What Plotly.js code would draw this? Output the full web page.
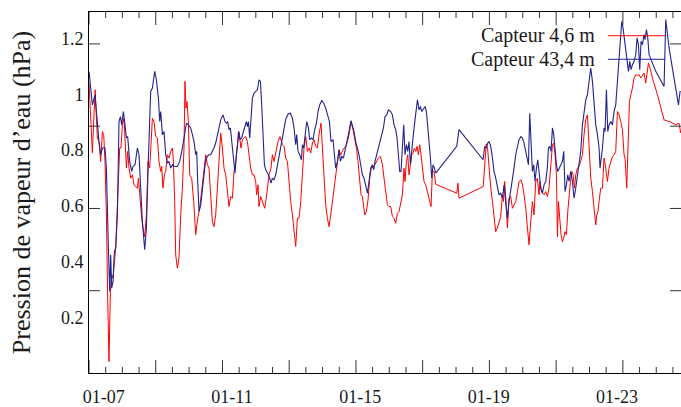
<!DOCTYPE html>
<html>
<head>
<meta charset="utf-8">
<script src="https://cdn.plot.ly/plotly-3.0.1.min.js"></script>
<style>
  html, body { margin: 0; padding: 0; background: #fff; }
  #chart { width: 681px; height: 407px; }
</style>
</head>
<body>
<div id="chart"></div>
<script>
// Water vapour pressure (hPa) recorded by two sensors, January.
// Times are given as decimal day of January.
const YEAR = 2009;

const seriesNames = ['Capteur 4,6 m', 'Capteur 43,4 m'];
const seriesColors = ['#ff0000', '#23238f'];

const lowDay = [
  6.542, 6.585, 6.648, 6.698, 6.735, 6.766, 6.804, 6.853, 6.906, 6.959,
  7.000, 7.041, 7.084, 7.125, 7.165, 7.209, 7.249, 7.290, 7.334, 7.374,
  7.436, 7.499, 7.539, 7.583, 7.633, 7.664, 7.708, 7.748, 7.789, 7.842,
  7.895, 7.944, 7.998, 8.050, 8.082, 8.132, 8.185, 8.225, 8.278, 8.331,
  8.381, 8.434, 8.487, 8.518, 8.568, 8.621, 8.674, 8.724, 8.777, 8.808,
  8.848, 8.892, 8.933, 8.986, 9.036, 9.089, 9.142, 9.173, 9.213, 9.244,
  9.297, 9.347, 9.400, 9.453, 9.503, 9.534, 9.565, 9.597, 9.640, 9.681,
  9.743, 9.805, 9.868, 9.930, 9.992, 10.055, 10.127, 10.180, 10.233, 10.282,
  10.335, 10.388, 10.438, 10.491, 10.544, 10.594, 10.647, 10.700, 10.750, 10.803,
  10.856, 10.906, 10.959, 11.012, 11.062, 11.115, 11.168, 11.199, 11.239, 11.280,
  11.324, 11.373, 11.426, 11.479, 11.529, 11.582, 11.635, 11.685, 11.738, 11.769,
  11.810, 11.841, 11.894, 11.947, 12.019, 12.081, 12.153, 12.215, 12.259, 12.309,
  12.362, 12.433, 12.496, 12.570, 12.620, 12.673, 12.726, 12.776, 12.829, 12.882,
  12.932, 12.985, 13.038, 13.088, 13.141, 13.194, 13.244, 13.297, 13.350, 13.400,
  13.453, 13.506, 13.555, 13.608, 13.661, 13.711, 13.774, 13.817, 13.867, 13.920,
  13.973, 14.023, 14.076, 14.129, 14.179, 14.232, 14.285, 14.335, 14.388, 14.441,
  14.491, 14.544, 14.597, 14.646, 14.709, 14.771, 14.824, 14.877, 14.927, 14.980,
  15.021, 15.064, 15.095, 15.136, 15.189, 15.239, 15.292, 15.345, 15.395, 15.448,
  15.501, 15.563, 15.625, 15.688, 15.737, 15.790, 15.843, 15.893, 15.946, 15.999,
  16.049, 16.102, 16.155, 16.205, 16.258, 16.311, 16.361, 16.392, 16.436, 16.476,
  16.517, 16.560, 16.601, 16.641, 16.685, 16.726, 16.766, 16.810, 16.850, 16.891,
  16.934, 16.984, 17.037, 17.090, 17.140, 17.203, 17.246, 17.296, 17.349, 18.004,
  18.041, 18.075, 18.830, 18.886, 18.923, 18.970, 19.011, 19.064, 19.117, 19.166,
  19.219, 19.272, 19.322, 19.375, 19.428, 19.459, 19.500, 19.540, 19.584, 19.634,
  19.687, 19.740, 19.790, 19.843, 19.896, 19.946, 20.008, 20.052, 20.102, 20.155,
  20.208, 20.257, 20.310, 20.363, 20.413, 20.466, 20.519, 20.569, 20.600, 20.644,
  20.685, 20.725, 20.778, 20.831, 20.881, 20.934, 20.987, 21.027, 21.068, 21.112,
  21.143, 21.174, 21.214, 21.255, 21.299, 21.339, 21.380, 21.423, 21.464, 21.504,
  21.548, 21.589, 21.629, 21.673, 21.713, 21.766, 21.816, 21.869, 21.922, 21.972,
  22.025, 22.078, 22.128, 22.181, 22.234, 22.284, 22.337, 22.368, 22.408, 22.440,
  22.492, 22.545, 22.595, 22.648, 22.701, 22.751, 22.804, 22.857, 22.907, 22.960,
  23.013, 23.063, 23.116, 23.169, 23.219, 23.250, 23.303, 23.344, 23.387, 23.428,
  23.481, 23.531, 23.584, 23.637, 23.686, 23.739, 23.792, 23.842, 23.895, 23.926,
  23.979, 24.029, 24.104, 24.260, 24.466, 24.675, 24.830, 24.933, 24.986
];
const lowVal = [
  1.040, 0.930, 0.790, 0.930, 1.016, 0.930, 0.843, 0.830, 0.759, 0.866,
  0.855, 0.759, 0.567, 0.268, 0.041, 0.292, 0.352, 0.340, 0.412, 0.448,
  0.627, 0.807, 0.807, 0.890, 0.914, 0.807, 0.735, 0.795, 0.735, 0.699,
  0.711, 0.675, 0.669, 0.663, 0.699, 0.615, 0.555, 0.520, 0.489, 0.567,
  0.759, 0.735, 0.830, 0.914, 0.902, 0.848, 0.843, 0.759, 0.723, 0.741,
  0.663, 0.711, 0.723, 0.783, 0.771, 0.795, 0.807, 0.759, 0.615, 0.424,
  0.376, 0.412, 0.567, 0.663, 0.807, 1.046, 0.950, 0.974, 0.902, 0.711,
  0.699, 0.615, 0.496, 0.555, 0.591, 0.663, 0.735, 0.783, 0.747, 0.735,
  0.639, 0.543, 0.525, 0.567, 0.663, 0.783, 0.861, 0.807, 0.735, 0.711,
  0.639, 0.597, 0.633, 0.627, 0.723, 0.759, 0.819, 0.866, 0.843, 0.807,
  0.837, 0.843, 0.848, 0.830, 0.783, 0.735, 0.711, 0.711, 0.687, 0.639,
  0.675, 0.597, 0.633, 0.615, 0.591, 0.639, 0.711, 0.735, 0.783, 0.759,
  0.795, 0.830, 0.848, 0.819, 0.813, 0.771, 0.759, 0.675, 0.615, 0.567,
  0.520, 0.454, 0.555, 0.555, 0.615, 0.711, 0.807, 0.848, 0.795, 0.807,
  0.789, 0.825, 0.837, 0.813, 0.807, 0.855, 0.896, 0.807, 0.711, 0.603,
  0.555, 0.525, 0.567, 0.615, 0.663, 0.723, 0.771, 0.801, 0.783, 0.795,
  0.807, 0.813, 0.830, 0.855, 0.902, 0.873, 0.843, 0.807, 0.759, 0.675,
  0.639, 0.633, 0.603, 0.567, 0.579, 0.621, 0.699, 0.741, 0.735, 0.747,
  0.759, 0.771, 0.777, 0.747, 0.699, 0.651, 0.603, 0.597, 0.597, 0.561,
  0.555, 0.537, 0.573, 0.579, 0.615, 0.639, 0.735, 0.687, 0.759, 0.783,
  0.711, 0.759, 0.783, 0.789, 0.807, 0.795, 0.813, 0.783, 0.819, 0.783,
  0.735, 0.687, 0.675, 0.651, 0.621, 0.597, 0.723, 0.723, 0.677, 0.645,
  0.681, 0.627, 0.669, 0.783, 0.822, 0.800, 0.723, 0.663, 0.615, 0.567,
  0.507, 0.520, 0.543, 0.561, 0.639, 0.615, 0.687, 0.615, 0.520, 0.627,
  0.633, 0.591, 0.603, 0.615, 0.651, 0.687, 0.693, 0.675, 0.639, 0.591,
  0.520, 0.460, 0.543, 0.615, 0.567, 0.687, 0.699, 0.639, 0.687, 0.651,
  0.645, 0.639, 0.651, 0.633, 0.663, 0.759, 0.819, 0.825, 0.783, 0.711,
  0.489, 0.615, 0.555, 0.496, 0.471, 0.484, 0.507, 0.496, 0.579, 0.639,
  0.687, 0.723, 0.711, 0.663, 0.711, 0.735, 0.741, 0.759, 0.783, 0.855,
  0.910, 0.926, 0.807, 0.699, 0.651, 0.579, 0.531, 0.567, 0.579, 0.615,
  0.663, 0.663, 0.771, 0.735, 0.687, 0.735, 0.759, 0.777, 0.783, 0.795,
  0.938, 0.926, 0.902, 0.873, 0.783, 0.771, 0.663, 0.866, 0.974, 0.998,
  1.022, 1.058, 1.070, 1.068, 1.070, 1.058, 1.070, 1.076, 1.040, 1.064,
  1.112, 1.094, 1.058, 0.998, 0.908, 0.900, 0.890, 0.896, 0.861
];

const highDay = [
  6.542, 6.648, 6.729, 6.804, 6.853, 6.906, 6.959, 7.041, 7.084, 7.147,
  7.187, 7.218, 7.249, 7.290, 7.334, 7.374, 7.427, 7.477, 7.521, 7.561,
  7.614, 7.664, 7.708, 7.748, 7.810, 7.873, 7.913, 7.976, 8.050, 8.100,
  8.153, 8.206, 8.278, 8.331, 8.393, 8.465, 8.518, 8.590, 8.643, 8.705,
  8.746, 8.777, 8.830, 8.880, 8.933, 8.986, 9.036, 9.089, 9.142, 9.191,
  9.297, 9.369, 9.453, 9.516, 9.578, 9.640, 9.712, 9.765, 9.815, 9.868,
  9.899, 9.930, 9.971, 10.024, 10.077, 10.127, 10.180, 10.233, 10.282, 10.335,
  10.388, 10.438, 10.491, 10.544, 10.594, 10.647, 10.719, 10.781, 10.825, 10.865,
  10.906, 10.949, 10.981, 11.012, 11.052, 11.093, 11.137, 11.177, 11.218, 11.249,
  11.302, 11.342, 11.395, 11.448, 11.479, 11.511, 11.551, 11.592, 11.635, 11.685,
  11.738, 11.791, 11.841, 11.885, 11.925, 11.966, 12.009, 12.050, 12.112, 12.175,
  12.215, 12.259, 12.309, 12.362, 12.415, 12.464, 12.517, 12.570, 12.620, 12.673,
  12.751, 12.820, 12.882, 12.932, 12.985, 13.016, 13.057, 13.110, 13.163, 13.194,
  13.234, 13.275, 13.328, 13.381, 13.421, 13.474, 13.524, 13.577, 13.630, 13.680,
  13.733, 13.795, 13.858, 13.920, 13.982, 14.036, 14.085, 14.148, 14.191, 14.232,
  14.285, 14.335, 14.378, 14.419, 14.472, 14.522, 14.584, 14.646, 14.709, 14.752,
  14.802, 14.855, 14.908, 14.958, 15.011, 15.064, 15.114, 15.167, 15.220, 15.270,
  15.323, 15.376, 15.416, 15.457, 15.510, 15.563, 15.613, 15.666, 15.719, 15.769,
  15.822, 15.875, 15.946, 15.999, 16.049, 16.102, 16.143, 16.186, 16.227, 16.267,
  16.311, 16.352, 16.392, 16.436, 16.476, 16.517, 16.560, 16.601, 16.641, 16.685,
  16.726, 16.779, 16.829, 16.872, 16.913, 16.966, 17.016, 17.059, 17.100, 17.140,
  17.184, 17.224, 17.265, 17.309, 17.349, 18.004, 18.075, 18.824, 18.877, 18.930,
  18.970, 19.011, 19.064, 19.117, 19.166, 19.219, 19.251, 19.282, 19.322, 19.375,
  19.428, 19.478, 19.531, 19.584, 19.634, 19.687, 19.740, 19.790, 19.843, 19.896,
  19.946, 19.999, 20.052, 20.102, 20.155, 20.208, 20.239, 20.279, 20.320, 20.363,
  20.404, 20.444, 20.488, 20.529, 20.569, 20.622, 20.675, 20.725, 20.778, 20.831,
  20.862, 20.903, 20.943, 20.987, 21.027, 21.068, 21.112, 21.152, 21.193, 21.246,
  21.299, 21.339, 21.380, 21.423, 21.464, 21.504, 21.557, 21.610, 21.660, 21.713,
  21.766, 21.816, 21.869, 21.922, 21.972, 22.025, 22.078, 22.128, 22.181, 22.234,
  22.284, 22.337, 22.390, 22.440, 22.471, 22.514, 22.545, 22.595, 22.627, 22.670,
  22.711, 22.751, 22.804, 22.857, 22.907, 22.960, 23.013, 23.063, 23.107, 23.147,
  23.188, 23.231, 23.272, 23.312, 23.356, 23.397, 23.437, 23.481, 23.531, 23.584,
  23.624, 23.668, 23.708, 23.749, 23.792, 23.842, 23.873, 23.917, 23.958, 23.998,
  24.207, 24.466, 24.519, 24.622, 24.777, 24.915, 24.964, 24.986
];
const highVal = [
  1.082, 0.962, 0.998, 0.890, 0.830, 0.783, 0.807, 0.807, 0.735, 0.448,
  0.292, 0.424, 0.304, 0.328, 0.436, 0.448, 0.567, 0.902, 0.920, 0.890,
  0.938, 0.890, 0.843, 0.848, 0.759, 0.723, 0.741, 0.747, 0.807, 0.783,
  0.639, 0.543, 0.442, 0.520, 0.771, 1.010, 1.022, 1.082, 1.052, 0.986,
  0.902, 0.938, 0.855, 0.866, 0.783, 0.753, 0.759, 0.735, 0.747, 0.741,
  0.741, 0.759, 0.807, 0.855, 0.896, 0.890, 0.879, 0.855, 0.830, 0.783,
  0.795, 0.687, 0.579, 0.603, 0.663, 0.723, 0.765, 0.777, 0.783, 0.783,
  0.795, 0.807, 0.825, 0.848, 0.879, 0.908, 0.926, 0.902, 0.896, 0.902,
  0.873, 0.879, 0.843, 0.830, 0.783, 0.717, 0.783, 0.819, 0.866, 0.837,
  0.843, 0.861, 0.884, 0.902, 0.884, 0.902, 0.843, 0.938, 0.986, 1.004,
  1.010, 1.016, 1.052, 1.046, 0.962, 0.855, 0.747, 0.729, 0.717, 0.699,
  0.681, 0.699, 0.693, 0.711, 0.747, 0.783, 0.819, 0.855, 0.890, 0.910,
  0.929, 0.932, 0.914, 0.879, 0.819, 0.855, 0.795, 0.783, 0.765, 0.819,
  0.807, 0.855, 0.902, 0.879, 0.837, 0.843, 0.837, 0.873, 0.896, 0.938,
  0.962, 0.977, 0.968, 0.950, 0.926, 0.902, 0.830, 0.837, 0.783, 0.735,
  0.759, 0.801, 0.759, 0.777, 0.771, 0.795, 0.830, 0.866, 0.905, 0.890,
  0.866, 0.830, 0.807, 0.783, 0.747, 0.711, 0.699, 0.675, 0.645, 0.687,
  0.735, 0.747, 0.729, 0.759, 0.783, 0.807, 0.830, 0.848, 0.879, 0.920,
  0.926, 0.944, 0.938, 0.926, 0.890, 0.873, 0.843, 0.783, 0.723, 0.723,
  0.807, 0.890, 0.783, 0.819, 0.795, 0.830, 0.747, 0.807, 0.843, 0.890,
  0.926, 0.980, 0.944, 0.956, 0.938, 0.950, 0.956, 0.938, 0.890, 0.830,
  0.771, 0.699, 0.747, 0.735, 0.717, 0.813, 0.873, 0.765, 0.813, 0.807,
  0.825, 0.830, 0.813, 0.771, 0.723, 0.699, 0.681, 0.651, 0.639, 0.645,
  0.627, 0.675, 0.615, 0.555, 0.615, 0.651, 0.687, 0.735, 0.783, 0.813,
  0.837, 0.848, 0.843, 0.825, 0.795, 0.759, 0.747, 0.932, 0.819, 0.723,
  0.747, 0.687, 0.735, 0.765, 0.723, 0.663, 0.645, 0.675, 0.687, 0.741,
  0.807, 0.813, 0.795, 0.879, 0.855, 0.801, 0.747, 0.723, 0.735, 0.747,
  0.759, 0.795, 0.651, 0.675, 0.711, 0.687, 0.723, 0.687, 0.627, 0.663,
  0.711, 0.747, 0.795, 0.890, 0.938, 0.980, 0.998, 1.050, 1.094, 1.046,
  0.962, 0.890, 0.855, 0.807, 0.735, 0.771, 0.807, 0.879, 0.866, 1.016,
  0.866, 0.890, 0.902, 0.890, 0.938, 0.962, 1.046, 1.154, 1.226, 1.261,
  1.237, 1.202, 1.166, 1.118, 1.082, 1.118, 1.088, 1.106, 1.118, 1.142,
  1.202, 1.178, 1.088, 1.190, 1.178, 1.214, 1.196, 1.232, 1.202, 1.142,
  1.082, 1.028, 1.268, 1.166, 1.058, 0.962, 1.010, 1.010
];

// Axis labelling
const dateTickDays = [7, 11, 15, 19, 23];
const pressureTicks = [0.2, 0.4, 0.6, 0.8, 1, 1.2];
const viewDays = [6.542, 24.994];
const pressureRange = [0, 1.295];

// Tick frame around the box, in its own unit grid
const frameXRange = [0, 8.871];
const frameYRange = [0, 4.388];
const frameMajorX = [0, 1, 2, 3, 4, 5, 6, 7, 8];
const frameMinorX = [0.25, 0.5, 0.75, 1.25, 1.5, 1.75, 2.25, 2.5, 2.75, 3.25, 3.5, 3.75,
                     4.25, 4.5, 4.75, 5.25, 5.5, 5.75, 6.25, 6.5, 6.75, 7.25, 7.5, 7.75,
                     8.25, 8.5, 8.75];
const frameMajorY = [1, 2, 3, 4];
const tickLenMajorX = 0.158, tickLenMinorX = 0.073, tickLenY = 0.165;

const FONT = 'Liberation Serif, DejaVu Serif, serif';
const INK = '#1a1a1a';
const TICK = '#333';

// decimal day of January -> Plotly date string
function jan(d) {
  const ms = Date.UTC(YEAR, 0, 1) + (d - 1) * 86400000;
  return new Date(ms).toISOString().slice(0, 19).replace('T', ' ');
}

// short inward marks on bottom and top edges at the given frame positions
function edgeMarksX(vals, len) {
  const x = [], y = [];
  const top = frameYRange[1];
  vals.forEach(v => { x.push(v, v, null, v, v, null); y.push(0, len, null, top, top - len, null); });
  return { x, y };
}
// short inward marks on left and right edges
function edgeMarksY(vals, len) {
  const x = [], y = [];
  const right = frameXRange[1];
  vals.forEach(v => { x.push(0, len, null, right, right - len, null); y.push(v, v, null, v, v, null); });
  return { x, y };
}

function frameTrace(m) {
  return { x: m.x, y: m.y, xaxis: 'x2', yaxis: 'y2', type: 'scatter', mode: 'lines',
           line: { color: TICK, width: 1 }, connectgaps: false,
           showlegend: false, hoverinfo: 'skip' };
}

const traces = [
  { x: lowDay.map(jan), y: lowVal, name: seriesNames[0], type: 'scatter', mode: 'lines',
    line: { color: seriesColors[0], width: 1 }, showlegend: false, hoverinfo: 'skip' },
  { x: highDay.map(jan), y: highVal, name: seriesNames[1], type: 'scatter', mode: 'lines',
    line: { color: seriesColors[1], width: 1.1 }, showlegend: false, hoverinfo: 'skip' },
  frameTrace(edgeMarksX(frameMajorX, tickLenMajorX)),
  frameTrace(edgeMarksX(frameMinorX, tickLenMinorX)),
  frameTrace(edgeMarksY(frameMajorY, tickLenY))
];

// Legend: text on the left, sample line on the right
const legendTextX = 0.8576, legendLineX = [0.8767, 0.9730], legendY = [0.9343, 0.8690];
const annotations = seriesNames.map((n, i) => ({
  text: n, xref: 'paper', yref: 'paper', x: legendTextX, y: legendY[i],
  xanchor: 'right', yanchor: 'middle', showarrow: false,
  font: { family: FONT, size: 20, color: INK }
}));
const shapes = seriesNames.map((n, i) => ({
  type: 'line', xref: 'paper', yref: 'paper',
  x0: legendLineX[0], x1: legendLineX[1], y0: legendY[i], y1: legendY[i],
  line: { color: seriesColors[i], width: 1 }
}));

const hiddenFrameAxis = {
  domain: [0, 1], ticks: '', showticklabels: false, showgrid: false,
  zeroline: false, showline: false
};

const layout = {
  width: 681, height: 407,
  margin: { l: 89, r: 0, t: 12, b: 34, pad: 0 },
  paper_bgcolor: '#fff', plot_bgcolor: 'rgba(0,0,0,0)',
  showlegend: false,
  font: { family: FONT, color: INK },
  xaxis: {
    type: 'date', range: viewDays.map(jan), domain: [0, 1], anchor: 'y',
    tickvals: dateTickDays.map(jan), tickformat: '%m-%d',
    ticks: '', ticklabelstandoff: 7,
    tickfont: { family: FONT, size: 18, color: INK },
    showline: true, mirror: true, linecolor: '#000', linewidth: 1,
    showgrid: false, zeroline: false
  },
  yaxis: {
    range: pressureRange, tickvals: pressureTicks, domain: [0, 1], anchor: 'x',
    ticks: '', ticklabelstandoff: 1,
    tickfont: { family: FONT, size: 18, color: INK },
    showline: true, mirror: true, linecolor: '#000', linewidth: 1,
    showgrid: false, zeroline: false,
    title: { text: 'Pression de vapeur d’eau (hPa)', standoff: 22,
             font: { family: FONT, size: 26, color: INK } }
  },
  xaxis2: Object.assign({}, hiddenFrameAxis, { anchor: 'y2', range: frameXRange }),
  yaxis2: Object.assign({}, hiddenFrameAxis, { anchor: 'x2', range: frameYRange }),
  annotations: annotations,
  shapes: shapes
};

Plotly.newPlot('chart', traces, layout, { staticPlot: true, displayModeBar: false });
</script>
</body>
</html>
